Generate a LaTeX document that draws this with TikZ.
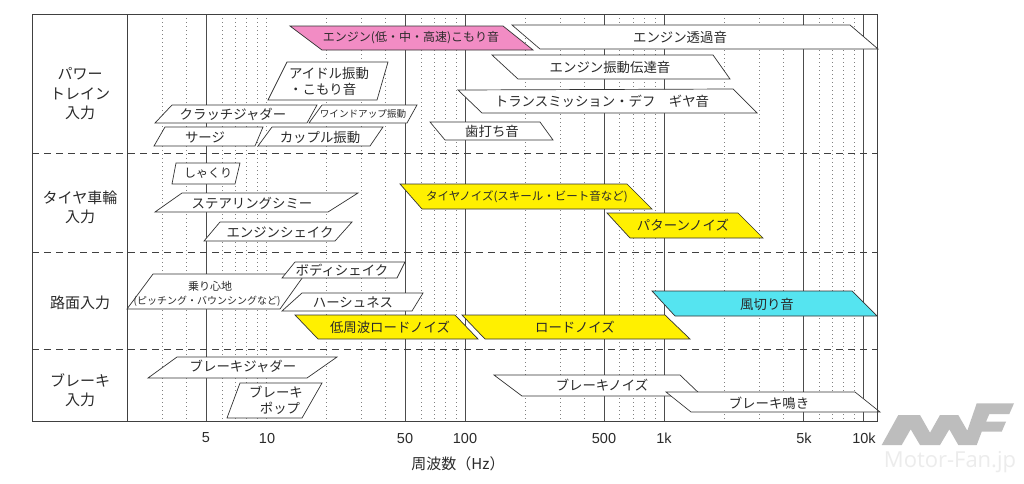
\documentclass[tikz,border=0pt]{standalone}
\usepackage{fontspec}
\setmainfont{Noto Sans CJK JP}
\newfontfamily\numfont{Liberation Sans}
\newfontfamily\wmfont{Open Sans}
\definecolor{pinkbox}{HTML}{F28CC4}
\definecolor{yellowbox}{HTML}{FFF000}
\definecolor{cyanbox}{HTML}{55E4F0}
\definecolor{ink}{HTML}{2A2A2A}
\definecolor{logogray}{HTML}{BDBDBD}
\definecolor{wmgray}{HTML}{ECECEC}
\newcommand{\mypg}[5]{\filldraw[pgbox,fill=#1] (#2) -- (#3) -- (#4) -- (#5) -- cycle;}
\tikzset{
  gsolid/.style={draw=black!70, line width=0.8pt},
  gdot/.style={draw=black!50, line width=0.7pt, dash pattern=on 1pt off 3pt},
  hdash/.style={draw=black!75, line width=0.9pt, dash pattern=on 7pt off 5pt},
  frameline/.style={draw=black!75, line width=1pt},
  pgbox/.style={draw=black!80, line width=0.7pt, line join=miter},
  lbl/.style={inner sep=0pt, text=ink, font=\fontsize{13.4}{15}\selectfont},
  lblsm/.style={inner sep=0pt, text=ink, font=\fontsize{11.5}{13}\selectfont},
  rowlbl/.style={inner sep=0pt, text=ink, align=center, font=\fontsize{15}{19.5}\selectfont},
  axnum/.style={inner sep=0pt, text=ink, font=\numfont\fontsize{14.5}{16}\selectfont},
}
\begin{document}
\begin{tikzpicture}[x=1pt,y=-1pt]
\useasboundingbox (0,0) rectangle (1024,483);
\fill[white] (0,0) rectangle (1024,483);
% grid
\foreach \f in {3,4,6,7,8,9,10,20,30,40,60,70,80,90,200,300,400,600,700,800,900,2000,3000,4000,6000,7000,8000,9000}{
  \pgfmathsetmacro\xx{266+199*log10(\f/10)}
  \draw[gdot] (\xx,14) -- (\xx,421);
}
\foreach \f in {5,50,100,500,1000,5000,10000}{
  \pgfmathsetmacro\xx{266+199*log10(\f/10)}
  \draw[gsolid] (\xx,14) -- (\xx,421);
}
\draw[hdash] (32,153) -- (877,153);
\draw[hdash] (32,252) -- (877,252);
\draw[hdash] (32,349) -- (877,349);
% powertrain
\mypg{pinkbox}{290,26}{503,26}{533,50}{322,50}
\node[lblsm,font=\fontsize{12}{14}\selectfont] (eng) at (411,38) {エンジン(低・中・高速)こもり音};
\mypg{white}{512,25}{850,25}{878,49}{540,49}
\node[lbl] (tk) at (680,37) {エンジン透過音};
\mypg{white}{492,55}{713,55}{730,79}{518,79}
\node[lbl] (sd) at (610,67) {エンジン振動伝達音};
\mypg{white}{458,90}{733,89}{757,113}{482,113}
\node[lbl] (tm) at (602,101) {トランスミッション・デフ　ギヤ音};
\mypg{white}{430,122}{540,122}{553,140}{445,140}
\node[lbl] (hu) at (492,131) {歯打ち音};
\mypg{white}{287,62}{388,62}{377,100}{268,100}
\node[lbl,align=left,anchor=west,font=\fontsize{13.4}{16}\selectfont] (id) at (289,81) {アイドル振動\\・こもり音};
\mypg{white}{172,105}{317,105}{307,123}{155,123}
\node[lbl] (cj) at (233,114) {クラッチジャダー};
\mypg{white}{322,105}{417,105}{407,123}{309,123}
\node[lbl,font=\fontsize{9.6}{11}\selectfont] (wu) at (363,114) {ワインドアップ振動};
\mypg{white}{165,127}{263,127}{255,146}{154,146}
\node[lbl] (sg) at (205,137) {サージ};
\mypg{white}{272,127}{383,127}{370,146}{258,146}
\node[lbl] (cp) at (320,137) {カップル振動};
% tire
\mypg{white}{176,163}{240,163}{235,184}{172,184}
\node[lbl,font=\fontsize{12}{14}\selectfont] (sk) at (208,173) {しゃくり};
\mypg{white}{182,193}{358,193}{328,212}{155,212}
\node[lbl] (st) at (252,203) {ステアリングシミー};
\mypg{white}{220,222}{352,222}{335,241}{204,241}
\node[lbl] (es) at (280,232) {エンジンシェイク};
\mypg{yellowbox}{400,184}{627,184}{652,209}{422,209}
\node[lblsm] (tn) at (527,197) {タイヤノイズ(スキール・ビート音など)};
\mypg{yellowbox}{607,213}{738,213}{763,238}{630,238}
\node[lbl] (pn) at (683,225) {パターンノイズ};
% road
\mypg{white}{153,274}{305,274}{280,309}{127,309}
\node[lbl,font=\fontsize{11}{13}\selectfont] (nr) at (210,286) {乗り心地};
\node[lbl,font=\fontsize{10}{12}\selectfont] (pb) at (207,301) {(ピッチング・バウンシングなど)};
\mypg{white}{295,262}{405,262}{397,278}{282,278}
\node[lbl] (bs) at (342,270) {ボディシェイク};
\mypg{white}{302,293}{423,293}{412,311}{282,311}
\node[lbl] (hs) at (353,302) {ハーシュネス};
\mypg{yellowbox}{295,315}{455,315}{478,339}{318,339}
\node[lbl] (lr) at (390,327) {低周波ロードノイズ};
\mypg{yellowbox}{462,315}{665,315}{690,339}{485,339}
\node[lbl] (rn) at (575,327) {ロードノイズ};
\mypg{cyanbox}{652,291}{852,291}{877,316}{675,316}
\node[lbl] (kz) at (767,304) {風切り音};
% brake
\mypg{white}{177,357}{337,357}{307,378}{148,378}
\node[lbl] (bj) at (243,366) {ブレーキジャダー};
\mypg{white}{240,383}{322,383}{302,418}{227,418}
\node[lbl] (bp1) at (276,392) {ブレーキ};
\node[lbl] (bp2) at (280,408) {ポップ};
\mypg{white}{494,375}{680,375}{702,396}{522,396}
\node[lbl] (bn) at (602,385) {ブレーキノイズ};
\mypg{white}{666,392}{855,392}{880,412}{691,412}
\node[lbl] (bk) at (769,403) {ブレーキ鳴き};
% frame
\draw[frameline] (32,14) rectangle (877,421);
\draw[frameline] (127,14) -- (127,421);
% row labels
\node[rowlbl] (r1) at (80,94) {パワー\\トレイン\\入力};
\node[rowlbl] (r2) at (80,207.5) {タイヤ車輪\\入力};
\node[rowlbl] (r3) at (80,303) {路面入力};
\node[rowlbl] (r4) at (80,390) {ブレーキ\\入力};
% axis
\node[axnum] (a1) at (206,438) {5};
\node[axnum] (a2) at (267,438) {10};
\node[axnum] (a3) at (405,438) {50};
\node[axnum] (a4) at (465,438) {100};
\node[axnum] (a5) at (604,438) {500};
\node[axnum] (a6) at (664,438) {1k};
\node[axnum] (a7) at (804,438) {5k};
\node[axnum] (a8) at (864,438) {10k};
\node[inner sep=0pt, text=ink, font=\fontsize{15}{17}\selectfont] (ax) at (458,464) {周波数（Hz）};
% watermark
\fill[logogray] (881.7,445) -- (898.3,415) -- (920,415) -- (930,432.7) -- (940,415) -- (958.3,415) -- (967.3,430.7) -- (976.7,403.3) -- (1014,403.3) -- (1009.3,414) -- (989.3,414) -- (986,421.7) -- (1006,421.7) -- (1001.7,431.7) -- (981.7,431.7) -- (976.7,445) -- (958.3,445) -- (949.3,429.3) -- (940,445) -- (920,445) -- (910.7,429.3) -- (901.7,445) -- cycle;
\node[inner sep=0pt, text=wmgray, font=\wmfont\fontsize{22}{24}\selectfont] (wm) at (950,462) {Motor-Fan.jp};
\end{tikzpicture}
\end{document}
